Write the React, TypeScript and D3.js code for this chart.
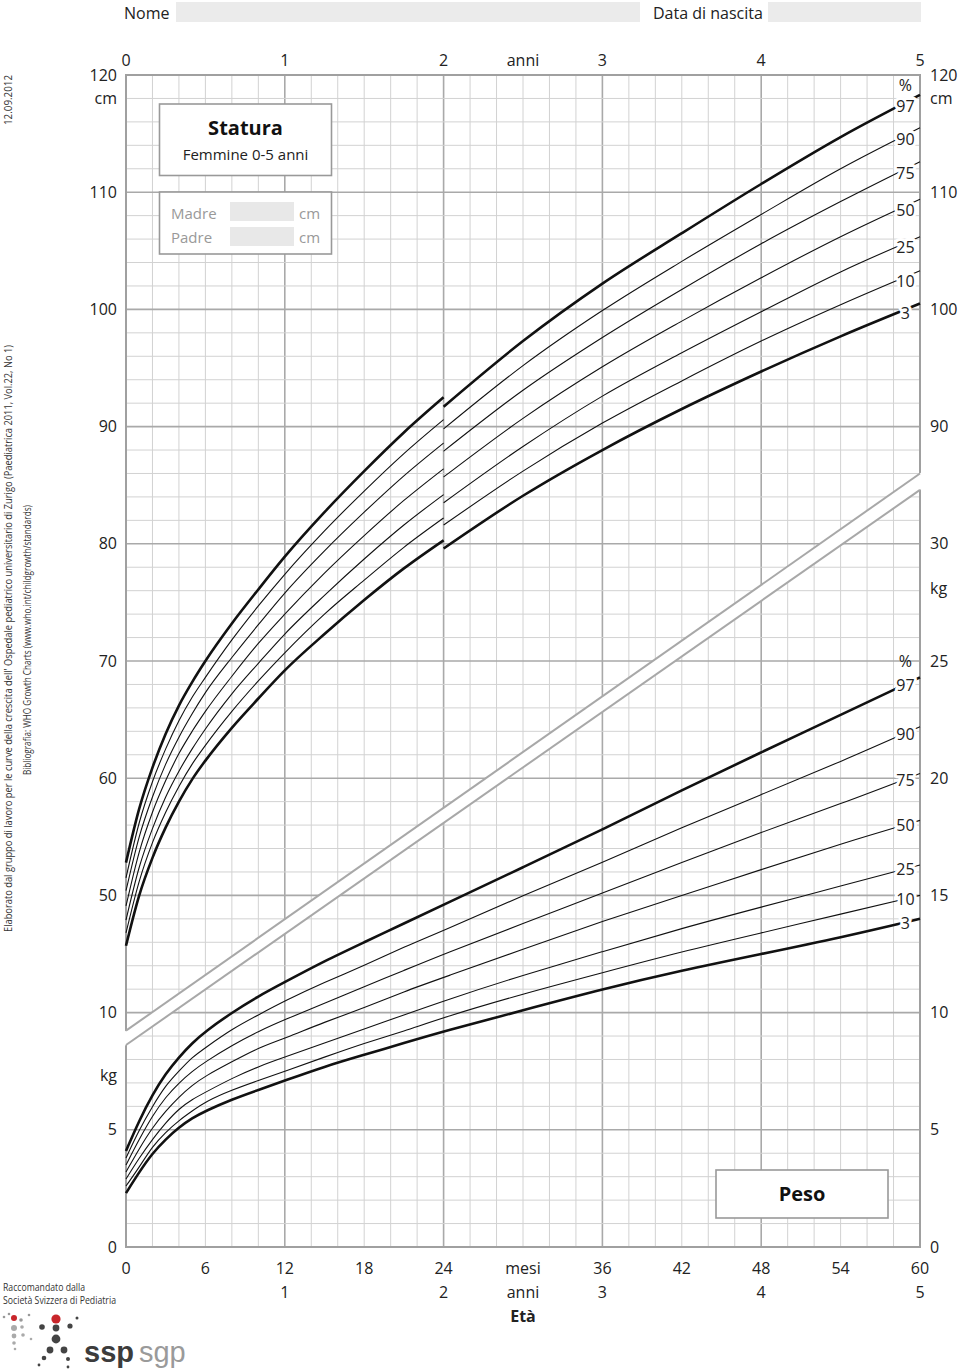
import React from 'react';
import * as d3 from 'd3';

// chart geometry
const W = 960;
const H = 1371;
const FONT = "'Open Sans', 'DejaVu Sans', sans-serif";

// percentiles drawn, top to bottom
const percentiles = ['97', '90', '75', '50', '25', '10', '3'];
const thick = ['97', '3'];

// length (lying), 0-24 months, cm
const lengthAges = [0, 1, 2, 3, 4, 5, 6, 8, 10, 12, 15, 18, 21, 24];
const lengthP97 = [52.8, 57.4, 60.9, 63.8, 66.2, 68.2, 70.0, 73.2, 76.1, 78.9, 82.7, 86.2, 89.5, 92.5];
const lengthP90 = [51.5, 56.2, 59.7, 62.5, 64.9, 66.9, 68.6, 71.8, 74.7, 77.4, 81.1, 84.5, 87.7, 90.6];
const lengthP75 = [50.4, 55.0, 58.4, 61.2, 63.5, 65.5, 67.3, 70.3, 73.1, 75.8, 79.4, 82.7, 85.8, 88.6];
const lengthP50 = [49.1, 53.7, 57.1, 59.8, 62.1, 64.0, 65.7, 68.7, 71.5, 74.0, 77.5, 80.7, 83.7, 86.4];
const lengthP25 = [47.9, 52.4, 55.7, 58.4, 60.6, 62.5, 64.2, 67.2, 69.8, 72.3, 75.6, 78.7, 81.6, 84.2];
const lengthP10 = [46.8, 51.2, 54.5, 57.1, 59.3, 61.2, 62.8, 65.7, 68.3, 70.7, 74.0, 76.9, 79.7, 82.2];
const lengthP3 = [45.7, 50.0, 53.2, 55.8, 58.0, 59.9, 61.5, 64.3, 66.8, 69.2, 72.3, 75.2, 77.9, 80.3];

// height (standing), 24-60 months, cm
const heightAges = [24, 30, 36, 42, 48, 54, 60];
const heightP97 = [91.7, 97.3, 102.2, 106.5, 110.7, 114.7, 118.3];
const heightP90 = [89.8, 95.2, 99.9, 104.1, 108.1, 112.0, 115.5];
const heightP75 = [87.9, 93.1, 97.6, 101.7, 105.6, 109.2, 112.6];
const heightP50 = [85.7, 90.7, 95.1, 99.0, 102.7, 106.2, 109.4];
const heightP25 = [83.5, 88.3, 92.6, 96.3, 99.8, 103.2, 106.2];
const heightP10 = [81.6, 86.2, 90.3, 93.9, 97.3, 100.4, 103.3];
const heightP3 = [79.6, 84.1, 88.0, 91.5, 94.7, 97.7, 100.5];

// weight, 0-60 months, kg
const weightAges = [0, 1, 2, 3, 4, 5, 6, 8, 10, 12, 15, 18, 21, 24, 30, 36, 42, 48, 54, 60];
const weightP97 = [4.1, 5.4, 6.5, 7.4, 8.1, 8.7, 9.2, 10.0, 10.7, 11.3, 12.2, 13.0, 13.8, 14.6, 16.2, 17.8, 19.5, 21.1, 22.7, 24.3];
const weightP90 = [3.8, 5.0, 6.0, 6.9, 7.5, 8.1, 8.5, 9.3, 9.9, 10.5, 11.3, 12.0, 12.8, 13.5, 15.0, 16.4, 17.9, 19.3, 20.7, 22.2];
const weightP75 = [3.5, 4.6, 5.6, 6.4, 7.0, 7.5, 7.9, 8.6, 9.2, 9.7, 10.4, 11.1, 11.8, 12.5, 13.8, 15.1, 16.4, 17.7, 18.9, 20.2];
const weightP50 = [3.2, 4.2, 5.1, 5.8, 6.4, 6.9, 7.3, 7.9, 8.5, 8.9, 9.6, 10.2, 10.9, 11.5, 12.7, 13.9, 15.0, 16.1, 17.2, 18.2];
const weightP25 = [2.9, 3.8, 4.6, 5.3, 5.9, 6.3, 6.6, 7.2, 7.7, 8.1, 8.7, 9.3, 9.9, 10.5, 11.6, 12.6, 13.6, 14.5, 15.4, 16.3];
const weightP10 = [2.6, 3.4, 4.3, 4.9, 5.4, 5.8, 6.2, 6.7, 7.1, 7.5, 8.1, 8.7, 9.2, 9.8, 10.8, 11.7, 12.6, 13.4, 14.2, 15.0];
const weightP3 = [2.3, 3.2, 4.0, 4.6, 5.1, 5.5, 5.8, 6.3, 6.7, 7.1, 7.7, 8.2, 8.7, 9.2, 10.1, 11.0, 11.8, 12.5, 13.2, 14.0];

// axis ticks
const monthTicks = [0, 6, 12, 18, 24, 30, 36, 42, 48, 54, 60];
const monthLabels = ['0', '6', '12', '18', '24', 'mesi', '36', '42', '48', '54', '60'];
const yearTicksTop = [0, 12, 24, 30, 36, 48, 60];
const yearLabelsTop = ['0', '1', '2', 'anni', '3', '4', '5'];
const yearTicksBottom = [12, 24, 30, 36, 48, 60];
const yearLabelsBottom = ['1', '2', 'anni', '3', '4', '5'];
const leftCmTicks = [120, 110, 100, 90, 80, 70, 60, 50];
const rightCmTicks = [120, 110, 100, 90];
const leftKgTicks = [10, 5, 0];
const rightKgTicks = [30, 25, 20, 15, 10, 5, 0];
const cmUnitAt = 118;
const kgUnitLeftAt = 7.3;
const kgUnitRightAt = 28.1;

// the white break band (kg units at month 0 and 60)
const bandMonths = [0, 60];
const bandUpper = [9.23, 33.0];
const bandLower = [8.62, 32.3];

const labelMonth = 58.9;

const x = d3.scaleLinear().domain([0, 60]).range([126, 920]);
// kg grid: one cell = 1 kg = 2 cm
const yKg = d3.scaleLinear().domain([0, 50]).range([1247, 75]);
const yCm = d3.scaleLinear().domain([20, 120]).range([1247, 75]);

const lengthSeries = [lengthP97, lengthP90, lengthP75, lengthP50, lengthP25, lengthP10, lengthP3];
const heightSeries = [heightP97, heightP90, heightP75, heightP50, heightP25, heightP10, heightP3];
const weightSeries = [weightP97, weightP90, weightP75, weightP50, weightP25, weightP10, weightP3];

const makeLine = (ages: number[], y: d3.ScaleLinear<number, number>, curve: d3.CurveFactory) =>
  d3
    .line<number>()
    .x((_, i) => x(ages[i]))
    .y((v) => y(v))
    .curve(curve);

const gridMonths = d3.range(0, 61, 2);
const gridKg = d3.range(0, 51, 1);

type CurvesProps = {
  ages: number[];
  series: number[][];
  y: d3.ScaleLinear<number, number>;
  curve?: d3.CurveFactory;
};

const Curves = ({ ages, series, y, curve = d3.curveMonotoneX }: CurvesProps) => {
  const line = makeLine(ages, y, curve);
  return (
    <g fill="none" stroke="#111">
      {series.map((s, i) => (
        <path
          key={i}
          d={line(s) ?? ''}
          strokeWidth={thick.includes(percentiles[i]) ? 2.6 : 1.1}
          strokeLinejoin="round"
        />
      ))}
    </g>
  );
};

const PctLabels = ({ ages, series, y, dy, pctDy }: { ages: number[]; series: number[][]; y: d3.ScaleLinear<number, number>; dy: number; pctDy: number }) => {
  const ys = series.map((s) => y(d3.scaleLinear().domain(ages).range(s)(labelMonth)));
  const lx = x(labelMonth);
  return (
    <g fontFamily={FONT} fontSize={16} fill="#222" textAnchor="middle">
      <text x={lx} y={ys[0] + dy + pctDy} dy="0.35em">%</text>
      {ys.map((v, i) => (
        <text
          key={i}
          x={lx}
          y={v + dy}
          dy="0.35em"
          stroke="#fff"
          strokeWidth={6}
          paintOrder="stroke"
          strokeLinejoin="round"
        >
          {percentiles[i]}
        </text>
      ))}
    </g>
  );
};

const logoDots: [number, number, number, string][] = [
  [4, 1317, 1.3, '#999'], [9, 1314, 1.3, '#999'], [14, 1318, 3, '#c8262b'], [21, 1320, 1.8, '#999'],
  [29, 1315, 1.3, '#999'], [14, 1328, 3, '#aaa'], [22, 1327, 1.8, '#aaa'], [14, 1336, 2.4, '#aaa'],
  [23, 1335, 1.8, '#aaa'], [14, 1343, 1.8, '#aaa'], [31, 1339, 1.3, '#aaa'], [15, 1349, 1.3, '#aaa'],
  [56, 1319, 4.6, '#c8262b'], [42, 1327, 2.8, '#444'], [70, 1326, 2.6, '#444'], [77, 1318, 1.5, '#444'],
  [56, 1328, 3.4, '#444'], [56, 1339, 4.4, '#444'], [50, 1350, 3.4, '#444'], [64, 1350, 3.4, '#444'],
  [44, 1358, 2.3, '#444'], [68, 1359, 2.0, '#444'], [39, 1365, 1.4, '#444'], [68, 1367, 1.4, '#444'],
];

export default function App() {
  const bx0 = x(bandMonths[0]);
  const bx1 = x(bandMonths[1]);
  const slopeU = (yKg(bandUpper[1]) - yKg(bandUpper[0])) / (bx1 - bx0);
  const slopeL = (yKg(bandLower[1]) - yKg(bandLower[0])) / (bx1 - bx0);
  const ext = 3;
  const bandPoly = [
    [bx0 - ext, yKg(bandUpper[0]) - slopeU * ext],
    [bx1 + ext, yKg(bandUpper[1]) + slopeU * ext],
    [bx1 + ext, yKg(bandLower[1]) + slopeL * ext],
    [bx0 - ext, yKg(bandLower[0]) - slopeL * ext],
  ]
    .map((p) => p.join(','))
    .join(' ');

  const textProps = { fontFamily: FONT, fontSize: 16, fill: '#222' };

  return (
    <svg
      width={W}
      height={H}
      viewBox={`0 0 ${W} ${H}`}
      style={{ position: 'absolute', left: 0, top: 0, background: '#fff' }}
    >
      <rect x={0} y={0} width={W} height={H} fill="#fff" />

      {/* header */}
      <g {...textProps}>
        <text x={124} y={13} dy="0.35em" fontSize={16}>Nome</text>
        <rect x={176} y={2} width={464} height={20} fill="#ebebeb" />
        <text x={653} y={13} dy="0.35em" fontSize={16}>Data di nascita</text>
        <rect x={768} y={2} width={153} height={20} fill="#ebebeb" />
      </g>

      {/* grid */}
      <g>
        {gridMonths.map((m) => (
          <line
            key={'v' + m}
            x1={x(m)}
            x2={x(m)}
            y1={yKg(50)}
            y2={yKg(0)}
            stroke={m % 12 === 0 ? '#a9a9a9' : '#d2d2d2'}
            strokeWidth={m % 12 === 0 ? 1.6 : 1}
          />
        ))}
        {gridKg.map((k) => (
          <line
            key={'h' + k}
            x1={x(0)}
            x2={x(60)}
            y1={yKg(k)}
            y2={yKg(k)}
            stroke={k % 5 === 0 ? '#a9a9a9' : '#d2d2d2'}
            strokeWidth={k % 5 === 0 ? 1.6 : 1}
          />
        ))}
        <rect
          x={x(0)}
          y={yKg(50)}
          width={x(60) - x(0)}
          height={yKg(0) - yKg(50)}
          fill="none"
          stroke="#a0a0a0"
          strokeWidth={2}
        />
      </g>

      {/* break band */}
      <polygon points={bandPoly} fill="#fff" />
      <g stroke="#a8a8a8" strokeWidth={2}>
        <line x1={bx0} x2={bx1} y1={yKg(bandUpper[0])} y2={yKg(bandUpper[1])} />
        <line x1={bx0} x2={bx1} y1={yKg(bandLower[0])} y2={yKg(bandLower[1])} />
      </g>

      {/* curves */}
      <Curves ages={lengthAges} series={lengthSeries} y={yCm} />
      <Curves ages={heightAges} series={heightSeries} y={yCm} />
      <Curves ages={weightAges} series={weightSeries} y={yKg} curve={d3.curveBasis} />

      <PctLabels ages={heightAges} series={heightSeries} y={yCm} dy={4} pctDy={-21} />
      <PctLabels ages={weightAges} series={weightSeries} y={yKg} dy={1} pctDy={-24} />

      {/* axes */}
      <g {...textProps} textAnchor="middle">
        {yearTicksTop.map((m, i) => (
          <text key={'yt' + m} x={x(m)} y={60} dy="0.35em">{yearLabelsTop[i]}</text>
        ))}
        {monthTicks.map((m, i) => (
          <text key={'mb' + m} x={x(m)} y={1268} dy="0.35em">{monthLabels[i]}</text>
        ))}
        {yearTicksBottom.map((m, i) => (
          <text key={'yb' + m} x={x(m)} y={1292} dy="0.35em">{yearLabelsBottom[i]}</text>
        ))}
        <text x={x(30)} y={1316} dy="0.35em" fontWeight="bold">Età</text>
      </g>
      <g {...textProps} textAnchor="end">
        {leftCmTicks.map((c) => (
          <text key={'lc' + c} x={117} y={yCm(c)} dy="0.35em">{c}</text>
        ))}
        <text x={117} y={yCm(cmUnitAt)} dy="0.35em">cm</text>
        {leftKgTicks.map((k) => (
          <text key={'lk' + k} x={117} y={yKg(k)} dy="0.35em">{k}</text>
        ))}
        <text x={117} y={yKg(kgUnitLeftAt)} dy="0.35em">kg</text>
      </g>
      <g {...textProps} textAnchor="start">
        {rightCmTicks.map((c) => (
          <text key={'rc' + c} x={930} y={yCm(c)} dy="0.35em">{c}</text>
        ))}
        <text x={930} y={yCm(cmUnitAt)} dy="0.35em">cm</text>
        {rightKgTicks.map((k) => (
          <text key={'rk' + k} x={930} y={yKg(k)} dy="0.35em">{k}</text>
        ))}
        <text x={930} y={yKg(kgUnitRightAt)} dy="0.35em">kg</text>
      </g>

      {/* title boxes */}
      <g fontFamily={FONT}>
        <rect x={159.5} y={104} width={172} height={71.5} fill="#fff" stroke="#999" strokeWidth={1.6} />
        <text x={245.5} y={128} dy="0.35em" textAnchor="middle" fontSize={20} fontWeight="bold" fill="#111">
          Statura
        </text>
        <text x={245.5} y={155} dy="0.35em" textAnchor="middle" fontSize={15} fill="#222">
          Femmine 0-5 anni
        </text>
        <rect x={159.5} y={192} width={172} height={62} fill="#fff" stroke="#999" strokeWidth={1.6} />
        <text x={171} y={214} dy="0.35em" fontSize={15} fill="#999">Madre</text>
        <rect x={230} y={202} width={64} height={19} fill="#e8e8e8" />
        <text x={299} y={214} dy="0.35em" fontSize={15} fill="#999">cm</text>
        <text x={171} y={238} dy="0.35em" fontSize={15} fill="#999">Padre</text>
        <rect x={230} y={227} width={64} height={19} fill="#e8e8e8" />
        <text x={299} y={238} dy="0.35em" fontSize={15} fill="#999">cm</text>

        <rect x={716} y={1170} width={172} height={48} fill="#fff" stroke="#999" strokeWidth={1.6} />
        <text x={802} y={1194} dy="0.35em" textAnchor="middle" fontSize={20} fontWeight="bold" fill="#111">
          Peso
        </text>
      </g>

      {/* side notes */}
      <g fontFamily={FONT} fontSize={10} fill="#333">
        <text transform="translate(12,125) rotate(-90)" textLength={50} lengthAdjust="spacingAndGlyphs">
          12.09.2012
        </text>
        <text transform="translate(12,932) rotate(-90)" textLength={587} lengthAdjust="spacingAndGlyphs">
          Elaborato dal gruppo di lavoro per le curve della crescita dell' Ospedale pediatrico universitario di Zurigo (Paediatrica 2011, Vol.22, No 1)
        </text>
        <text transform="translate(31,775) rotate(-90)" textLength={270} lengthAdjust="spacingAndGlyphs">
          Bibliografia: WHO Growth Charts (www.who.int/childgrowth/standards)
        </text>
        <text x={3} y={1291} textLength={82} lengthAdjust="spacingAndGlyphs">Raccomandato dalla</text>
        <text x={3} y={1304} textLength={113} lengthAdjust="spacingAndGlyphs">Società Svizzera di Pediatria</text>
      </g>

      {/* logo */}
      <g>
        {logoDots.map(([cx, cy, r, c], i) => (
          <circle key={i} cx={cx} cy={cy} r={r} fill={c} />
        ))}
        <text x={84} y={1362} fontFamily="'Liberation Sans', Arial, sans-serif" fontSize={29}>
          <tspan fill="#3c3c3c" fontWeight="bold">ssp</tspan>
          <tspan fill="#9a9a9a" dx={5}>sgp</tspan>
        </text>
      </g>
    </svg>
  );
}
